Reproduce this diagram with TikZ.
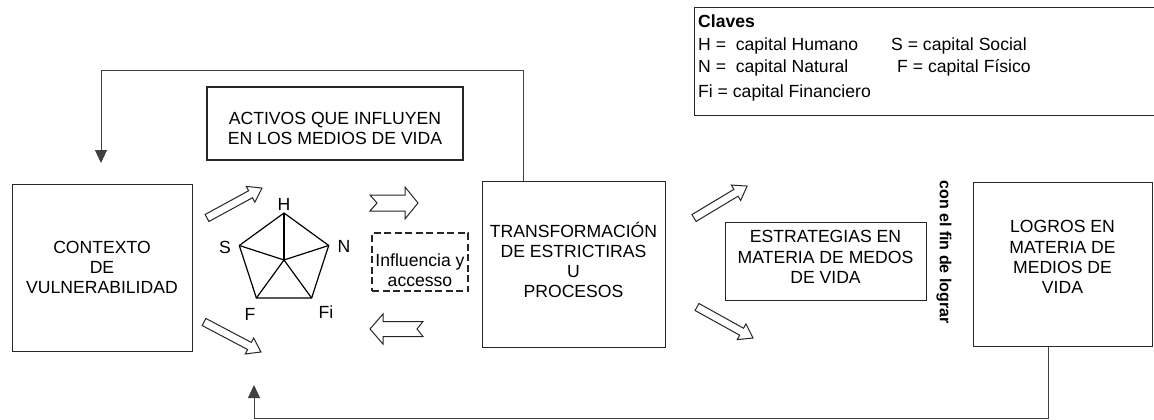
\documentclass[tikz,border=0pt]{standalone}
\usepackage{fontspec}
\setmainfont{Liberation Sans}
\usetikzlibrary{arrows.meta, positioning, calc}

\newcommand{\diagfont}{\fontsize{17.6}{20.2}\selectfont}

% hollow block arrow: [notch] tail, angle, length, body half width, head half width
\newcommand{\fatarrow}[6][0]{%
  \draw[fatarr, shift={(#2)}, rotate=#3]
    (0,-#5) -- ({#4-13},-#5) -- ({#4-13},-#6) -- (#4,0)
    -- ({#4-13},#6) -- ({#4-13},#5) -- (0,#5) -- (#1,0) -- cycle;}

\tikzset{
  framebox/.style={draw=black!85, line width=1pt, inner sep=0pt},
  boxtext/.style={align=center, font=\diagfont, inner sep=0pt},
  fatarr/.style={draw=black!85, line width=1pt, fill=white, line join=miter},
  link/.style={draw=black!75, line width=1pt},
  pent/.style={line width=1.2pt, line join=miter},
  capletter/.style={font=\diagfont, inner sep=0pt},
  keyline/.style={font=\diagfont, anchor=base west, inner sep=0pt}
}

\begin{document}
\begin{tikzpicture}[x=1pt, y=-1pt]
  \useasboundingbox (0,0) rectangle (1154,420);

  % boxes
  \node[framebox, minimum width=180pt, minimum height=167pt] (contexto) at (102,267.5) {};
  \node[boxtext] (contexto-txt) at (contexto.center) {CONTEXTO\\DE\\VULNERABILIDAD};

  \node[framebox, line width=2pt, minimum width=256pt, minimum height=73pt] (activos) at (335,123.5) {};
  \node[boxtext, yshift=-5pt] (activos-txt) at (activos.center) {ACTIVOS QUE INFLUYEN\\EN LOS MEDIOS DE VIDA};

  \node[framebox, dash pattern=on 7pt off 3.5pt, line width=1.5pt, minimum width=96pt, minimum height=58pt] (acceso) at (420,262) {};
  \node[boxtext, yshift=-8pt] (acceso-txt) at (acceso.center) {Influencia y\\accesso};

  \node[framebox, minimum width=183pt, minimum height=166pt] (transform) at (573.5,264) {};
  \node[boxtext, yshift=4pt] (transform-txt) at (transform.center) {TRANSFORMACIÓN\\DE ESTRICTIRAS\\U\\PROCESOS};

  \node[framebox, minimum width=201pt, minimum height=78pt] (estrategias) at (825.5,261) {};
  \node[boxtext, yshift=4pt] (estrategias-txt) at (estrategias.center) {ESTRATEGIAS EN\\MATERIA DE MEDOS\\DE VIDA};

  \node[framebox, minimum width=179pt, minimum height=164pt] (logros) at (1062.5,264) {};
  \node[boxtext, yshift=7pt] (logros-txt) at (logros.center) {LOGROS EN\\MATERIA DE\\MEDIOS DE\\VIDA};

  \node[font=\bfseries\fontsize{16}{18}\selectfont, rotate=-90, inner sep=0pt] (finlograr) at (944,252) {con el fin de lograr};

  % key
  \node[framebox, minimum width=464pt, minimum height=107pt] (claves) at (926,61.5) {};
  \node[keyline, font=\diagfont\bfseries] (k-title) at (698,28) {Claves};
  \node[keyline] (k-h) at (698,51) {H =\ \ capital Humano};
  \node[keyline] (k-n) at (698,73) {N =\ \ capital Natural};
  \node[keyline] (k-fi) at (698,97) {Fi = capital Financiero};
  \node[keyline] (k-s) at (891,51) {S = capital Social};
  \node[keyline] (k-f) at (897,73) {F = capital Físico};

  % pentagon of assets
  \coordinate (pc) at (284,260);
  \foreach \k/\a in {H/-90,N/-18,Fi/54,F/126,S/198}
    \coordinate (p\k) at ($(pc)+(\a:47)$);
  \draw[pent] (pH) -- (pN) -- (pFi) -- (pF) -- (pS) -- cycle;
  \foreach \k in {H,N,Fi,F,S}
    \draw[pent] (pc) -- (p\k);
  \node[capletter] (lH) at (284,204) {H};
  \node[capletter] (lN) at (344,246) {N};
  \node[capletter] (lS) at (225,247) {S};
  \node[capletter] (lF) at (250,314) {F};
  \node[capletter] (lFi) at (326,312) {Fi};

  % block arrows
  \fatarrow{207,218}{28.6}{62.6}{4}{9}
  \fatarrow{204,322}{-27.8}{64.4}{4}{9}
  \fatarrow[7]{370,203}{0}{48}{8}{16}
  \fatarrow[6]{423,329}{180}{53}{7.5}{15}
  \fatarrow{694,218}{31}{62}{4}{9}
  \fatarrow{697,307}{-29}{64}{4}{9}

  % feedback lines
  \coordinate (ctx-in) at (101,163);
  \coordinate (act-in) at (254,385);
  \draw[link, -{Triangle[width=12pt,length=13pt]}] ([xshift=-50.5pt]transform.north) -- ++(0,-110) -| (ctx-in);
  \draw[link, -{Triangle[width=12pt,length=13pt]}] ([xshift=-14.5pt]logros.south) -- ++(0,72) -| (act-in);
\end{tikzpicture}
\end{document}
